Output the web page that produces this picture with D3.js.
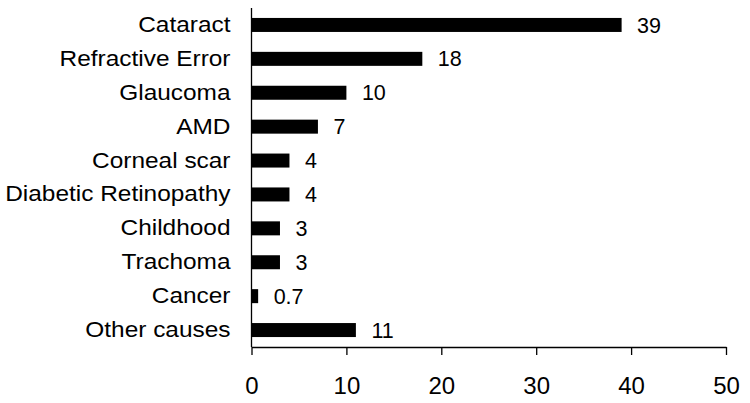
<!DOCTYPE html>
<head>
<style>
	body{
		margin: 0;
		background: white;
	}
	svg{
		display: block;
	}
	text{
		font-family: "Liberation Sans", Arial, sans-serif;
		fill: black;
	}
</style>
</head>
<body>
<script src="https://cdn.jsdelivr.net/npm/d3@7/dist/d3.min.js" charset="utf-8"></script>
<svg width="750" height="403"></svg>
<script>
	var causes = ["Cataract","Refractive Error","Glaucoma","AMD","Corneal scar","Diabetic Retinopathy","Childhood","Trachoma","Cancer","Other causes"];
	var shares = [39,18,10,7,4,4,3,3,0.7,11];
	var shareLabels = ["39","18","10","7","4","4","3","3","0.7","11"];
	var xTicks = [0,10,20,30,40,50];

	// plot edges (window.top is taken, so own names)
	var pLeft = 251.5, pRight = 726, pTop = 8, pBottom = 347;
	var catStretch = 1.11;

	var svg = d3.select("svg");

	var x = d3.scaleLinear()
		.domain([0,50])
		.range([pLeft,pRight]);

	var y = d3.scaleBand()
		.domain(causes)
		.range([pTop,pBottom])
		.paddingInner(0.587)
		.paddingOuter(0.2935);

	svg.selectAll(".bar")
		.data(causes)
		.enter().append("rect")
		.attr("class","bar")
		.attr("x",x(0))
		.attr("y",function(d){ return y(d); })
		.attr("width",function(d,i){ return x(shares[i]) - x(0); })
		.attr("height",y.bandwidth())
		.attr("fill","black");

	svg.selectAll(".val")
		.data(causes)
		.enter().append("text")
		.attr("class","val")
		.attr("x",function(d,i){ return x(shares[i]) + 15.5; })
		.attr("y",function(d){ return y(d) + y.bandwidth()/2 + 7.6; })
		.style("font-size","21.5px")
		.text(function(d,i){ return shareLabels[i]; });

	var xAxis = svg.append("g")
		.attr("transform","translate(0," + pBottom + ")")
		.call(d3.axisBottom(x).tickValues(xTicks).tickSize(8).tickSizeOuter(0).tickPadding(21.5));
	xAxis.selectAll("text")
		.style("font-size","24px")
		.attr("font-family",null);

	var yAxis = svg.append("g")
		.attr("transform","translate(" + pLeft + ",0)")
		.call(d3.axisLeft(y).tickSize(0));
	yAxis.select(".domain").attr("d","M0," + pTop + "V" + pBottom);
	yAxis.selectAll("text")
		.style("font-size","22px")
		.attr("font-family",null)
		.attr("x",-21/catStretch)
		.attr("dy","0.32em")
		.attr("transform","scale(" + catStretch + ",1)");

	svg.selectAll(".domain, .tick line")
		.attr("stroke","black")
		.attr("stroke-width",1.3);
</script>
</body>
</html>
